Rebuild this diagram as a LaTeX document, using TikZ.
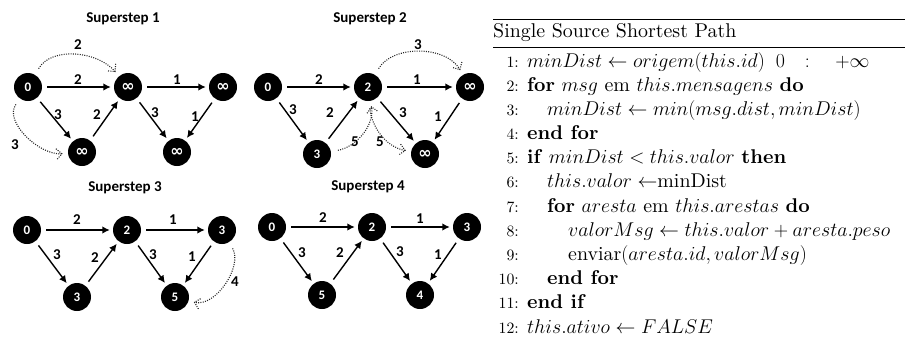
\RequirePackage{fix-cm}
\documentclass[tikz,border=0pt]{standalone}
\usepackage{fontspec}
\usetikzlibrary{arrows.meta}
% one design size for the roman text, whatever the point size
\setmainfont{lmroman10}[Extension=.otf, UprightFont=*-regular, BoldFont=*-bold,
  ItalicFont=*-italic, BoldItalicFont=*-bolditalic]
\newfontfamily\graphfont{Carlito}
\newfontfamily\symfont{DejaVu Sans}
\newcommand\infsym{{\symfont\bfseries\fontsize{16}{16}\selectfont ∞}}

% open chevron drawn with the same dot pattern as the message lines
\pgfdeclarearrow{
  name=DottedBarb,
  drawing code={
    \pgfsetdash{{1pt}{1.3pt}}{0pt}
    \pgfsetbuttcap
    \pgfpathmoveto{\pgfpoint{-5.5pt}{5.5pt}}
    \pgfpathlineto{\pgfpointorigin}
    \pgfpathlineto{\pgfpoint{-5.5pt}{-5.5pt}}
    \pgfusepathqstroke
  }
}

\tikzset{
  vtx/.style={circle, fill=black, minimum size=28pt, inner sep=0pt, text=white,
    font=\graphfont\bfseries\fontsize{13}{13}\selectfont},
  edge/.style={-{Latex[length=7.5pt,width=7.5pt]}, line width=1.4pt,
    shorten <=5pt, shorten >=3pt},
  msg/.style={-DottedBarb, line width=1.1pt, dash pattern=on 1pt off 1.3pt,
    color=black!85, shorten <=7pt, shorten >=6pt},
  wt/.style={font=\graphfont\bfseries\fontsize{15}{15}\selectfont, inner sep=0pt},
  ttl/.style={font=\graphfont\bfseries\fontsize{15}{15}\selectfont, inner sep=0pt},
  ln/.style={anchor=base west, inner sep=0pt, font=\fontsize{19.9}{24}\selectfont},
  num/.style={anchor=base east, inner sep=0pt, font=\fontsize{15.8}{18}\selectfont},
}

\begin{document}
\begin{tikzpicture}[x=1pt, y=-1pt]
\useasboundingbox (0,0) rectangle (905,341);

% ---------------- Superstep 1 ----------------
\node[ttl] (t1) at (123,19) {Superstep 1};
\node[vtx] (a1) at (28,87) {0};
\node[vtx] (b1) at (128,87) {\infsym};
\node[vtx] (c1) at (223,87) {\infsym};
\node[vtx] (d1) at (82,152) {\infsym};
\node[vtx] (e1) at (177,152) {\infsym};
\draw[edge] (a1) -- (b1);
\draw[edge] (a1) -- (d1);
\draw[edge] (d1) -- (b1);
\draw[edge] (b1) -- (c1);
\draw[edge] (b1) -- (e1);
\draw[edge] (c1) -- (e1);
\draw[msg] (a1) to[out=60,in=130] (b1);
\draw[msg] (a1) to[out=235,in=185] (d1);
\node[wt] (w1ab) at (78,80) {2};
\node[wt] (w1ad) at (58,115) {3};
\node[wt] (w1db) at (97,115) {2};
\node[wt] (w1bc) at (177,80) {1};
\node[wt] (w1be) at (155,113) {3};
\node[wt] (w1ce) at (195,117) {1};
\node[wt] (m1ab) at (78,45) {2};
\node[wt] (m1ad) at (15,145) {3};

% ---------------- Superstep 2 ----------------
\node[ttl] (t2) at (370,19) {Superstep 2};
\node[vtx] (a2) at (268,87) {0};
\node[vtx] (b2) at (368,87) {2};
\node[vtx] (c2) at (470,87) {\infsym};
\node[vtx] (d2) at (317,154) {3};
\node[vtx] (e2) at (425,154) {\infsym};
\draw[edge] (a2) -- (b2);
\draw[edge] (a2) -- (d2);
\draw[edge] (d2) -- (b2);
\draw[edge] (b2) -- (c2);
\draw[edge] (b2) -- (e2);
\draw[edge] (c2) -- (e2);
\draw[msg] (b2) to[out=60,in=120] (c2);
\draw[msg] (d2) to[out=10,in=-80] (b2);
\draw[msg] (b2) to[out=-85,in=170] (e2);
\node[wt] (w2ab) at (319,80) {2};
\node[wt] (w2ad) at (293,110) {3};
\node[wt] (w2db) at (330,113) {2};
\node[wt] (w2bc) at (417,80) {1};
\node[wt] (w2be) at (403,113) {3};
\node[wt] (w2ce) at (438,117) {1};
\node[wt] (m2bc) at (418,45) {3};
\node[wt] (m2db) at (355,142) {5};
\node[wt] (m2be) at (380,142) {5};

% ---------------- Superstep 3 ----------------
\node[ttl] (t3) at (125,188) {Superstep 3};
\node[vtx] (a3) at (27,230) {0};
\node[vtx] (b3) at (127,230) {2};
\node[vtx] (c3) at (222,230) {3};
\node[vtx] (d3) at (77,297) {3};
\node[vtx] (e3) at (175,297) {5};
\draw[edge] (a3) -- (b3);
\draw[edge] (a3) -- (d3);
\draw[edge] (d3) -- (b3);
\draw[edge] (b3) -- (c3);
\draw[edge] (b3) -- (e3);
\draw[edge] (c3) -- (e3);
\draw[msg] (c3) to[out=-60,in=-15] (e3);
\node[wt] (w3ab) at (77,220) {2};
\node[wt] (w3ad) at (57,255) {3};
\node[wt] (w3db) at (95,258) {2};
\node[wt] (w3bc) at (173,220) {1};
\node[wt] (w3be) at (153,255) {3};
\node[wt] (w3ce) at (192,257) {1};
\node[wt] (m3ce) at (235,282) {4};

% ---------------- Superstep 4 ----------------
\node[ttl] (t4) at (368,187) {Superstep 4};
\node[vtx] (a4) at (272,227) {0};
\node[vtx] (b4) at (372,227) {2};
\node[vtx] (c4) at (467,227) {3};
\node[vtx] (d4) at (322,295) {5};
\node[vtx] (e4) at (420,295) {4};
\draw[edge] (a4) -- (b4);
\draw[edge] (a4) -- (d4);
\draw[edge] (d4) -- (b4);
\draw[edge] (b4) -- (c4);
\draw[edge] (b4) -- (e4);
\draw[edge] (c4) -- (e4);
\node[wt] (w4ab) at (323,218) {2};
\node[wt] (w4ad) at (302,253) {3};
\node[wt] (w4db) at (340,253) {2};
\node[wt] (w4bc) at (420,219) {1};
\node[wt] (w4be) at (400,252) {3};
\node[wt] (w4ce) at (438,255) {1};

% ---------------- Algorithm ----------------
\draw[line width=1.3pt] (493,19.5) -- (905,19.5);
\node[ln] (hdr) at (493,37) {Single Source Shortest Path};
\draw[line width=0.8pt] (493,47) -- (905,47);

\node[num] (n1)  at (519,67)    {1:};
\node[num] (n2)  at (519,91.2)  {2:};
\node[num] (n3)  at (519,115.4) {3:};
\node[num] (n4)  at (519,139.5) {4:};
\node[num] (n5)  at (519,163.7) {5:};
\node[num] (n6)  at (519,187.9) {6:};
\node[num] (n7)  at (519,212.1) {7:};
\node[num] (n8)  at (519,236.3) {8:};
\node[num] (n9)  at (519,260.4) {9:};
\node[num] (n10) at (519,284.6) {10:};
\node[num] (n11) at (519,308.8) {11:};
\node[num] (n12) at (519,333)   {12:};

\node[ln] (l1)  at (527,67)    {$minDist \leftarrow origem(this.id)\;\;0\quad{:}\quad\;{+}\infty$};
\node[ln] (l2)  at (527,91.2)  {\textbf{for} $msg$ em $this.mensagens$ \textbf{do}};
\node[ln] (l3)  at (547,115.4) {$minDist \leftarrow min(msg.dist, minDist)$};
\node[ln] (l4)  at (527,139.5) {\textbf{end for}};
\node[ln] (l5)  at (527,163.7) {\textbf{if} $minDist < this.valor$ \textbf{then}};
\node[ln] (l6)  at (547,187.9) {$this.valor \leftarrow$minDist};
\node[ln] (l7)  at (547,212.1) {\textbf{for} $aresta$ em $this.arestas$ \textbf{do}};
\node[ln] (l8)  at (568,236.3) {$valorMsg \leftarrow this.valor + aresta.peso$};
\node[ln] (l9)  at (568,260.4) {enviar$(aresta.id, valorMsg)$};
\node[ln] (l10) at (547,284.6) {\textbf{end for}};
\node[ln] (l11) at (527,308.8) {\textbf{end if}};
\node[ln] (l12) at (527,333)   {$this.ativo \leftarrow FALSE$};
\end{tikzpicture}
\end{document}
